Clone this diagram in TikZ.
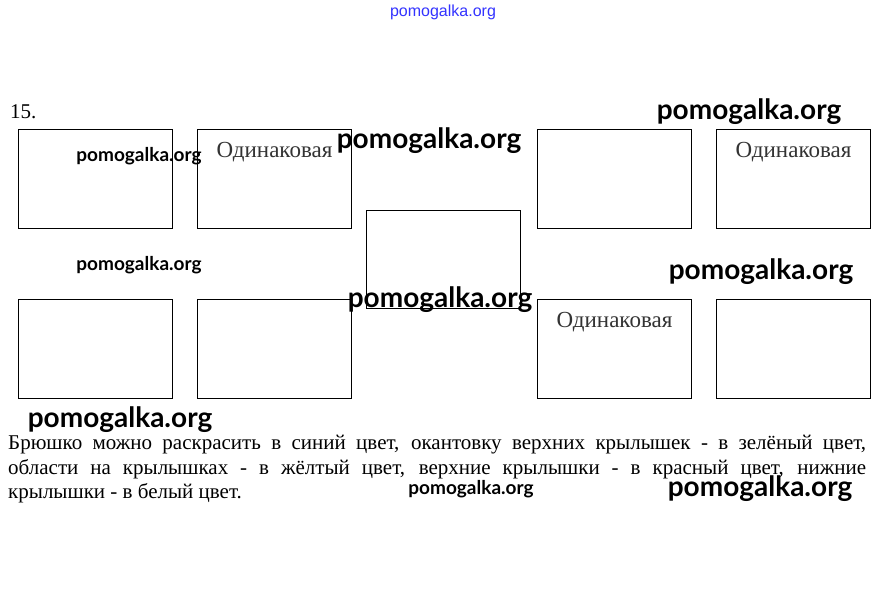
\documentclass[tikz,border=0pt]{standalone}
\usepackage{fontspec}
\setmainfont{Liberation Serif}
\newfontfamily\wmfont{Lato}
\newfontfamily\topfont{Liberation Sans}
\begin{document}
\begin{tikzpicture}
[x=1pt,y=-1pt,
 cell/.style={draw,line width=0.8pt,minimum width=154pt,minimum height=99pt,inner sep=0pt},
 same/.style={label={[anchor=north,inner sep=0pt,font=\fontsize{23}{23}\selectfont,text=black!80,yshift=-13pt]north:Одинаковая}},
 wmbig/.style={font=\wmfont\bfseries\fontsize{28}{28}\selectfont,inner sep=0pt},
 wmsmall/.style={font=\wmfont\bfseries\fontsize{19}{19}\selectfont,inner sep=0pt}]
\useasboundingbox[fill=white] (0,0) rectangle (884,603);
%% the boxes
\foreach \name/\x/\y in {wingtl/95/178.5, wingbl/95/349, wingbm/274.5/349, wingtr/614.5/178.5}
{
  \node[cell] (\name) at (\x,\y) {};
}
\node[cell,same] (wingtm) at (274.5,178.5) {};
\node[cell,same] (wingtrr) at (793.5,178.5) {};
\node[cell,same] (wingbr) at (614.5,349) {};
\node[cell] (wingbrr) at (793.5,349) {};
\node[cell,minimum height=98pt] (body) at (443,259) {};
%% number and caption
\node[anchor=west,inner sep=0pt,font=\fontsize{21}{21}\selectfont] (num) at (10,112) {15.};
\node[anchor=north west,inner sep=0pt,text width=858pt,align=justify,
  font=\fontsize{21}{24.5}\selectfont] (caption) at (8,435)
  {Брюшко можно раскрасить в синий цвет, окантовку верхних крылышек - в зелёный цвет,\linebreak
   области на крылышках - в жёлтый цвет, верхние крылышки - в красный цвет, нижние\linebreak
   крылышки - в белый цвет.};
%% watermarks
\node[font=\topfont\fontsize{16}{16}\selectfont,text=blue!80,inner sep=0pt] (wm0) at (443,12) {pomogalka.org};
\foreach \x/\y [count=\i] in {749/112, 429/141, 761/272, 440/300, 120/420, 760/489}
{
  \node[wmbig] (wmb\i) at (\x,\y) {pomogalka.org};
}
\foreach \x/\y [count=\i] in {139/156, 139/265, 471/489}
{
  \node[wmsmall] (wms\i) at (\x,\y) {pomogalka.org};
}
\end{tikzpicture}
\end{document}
